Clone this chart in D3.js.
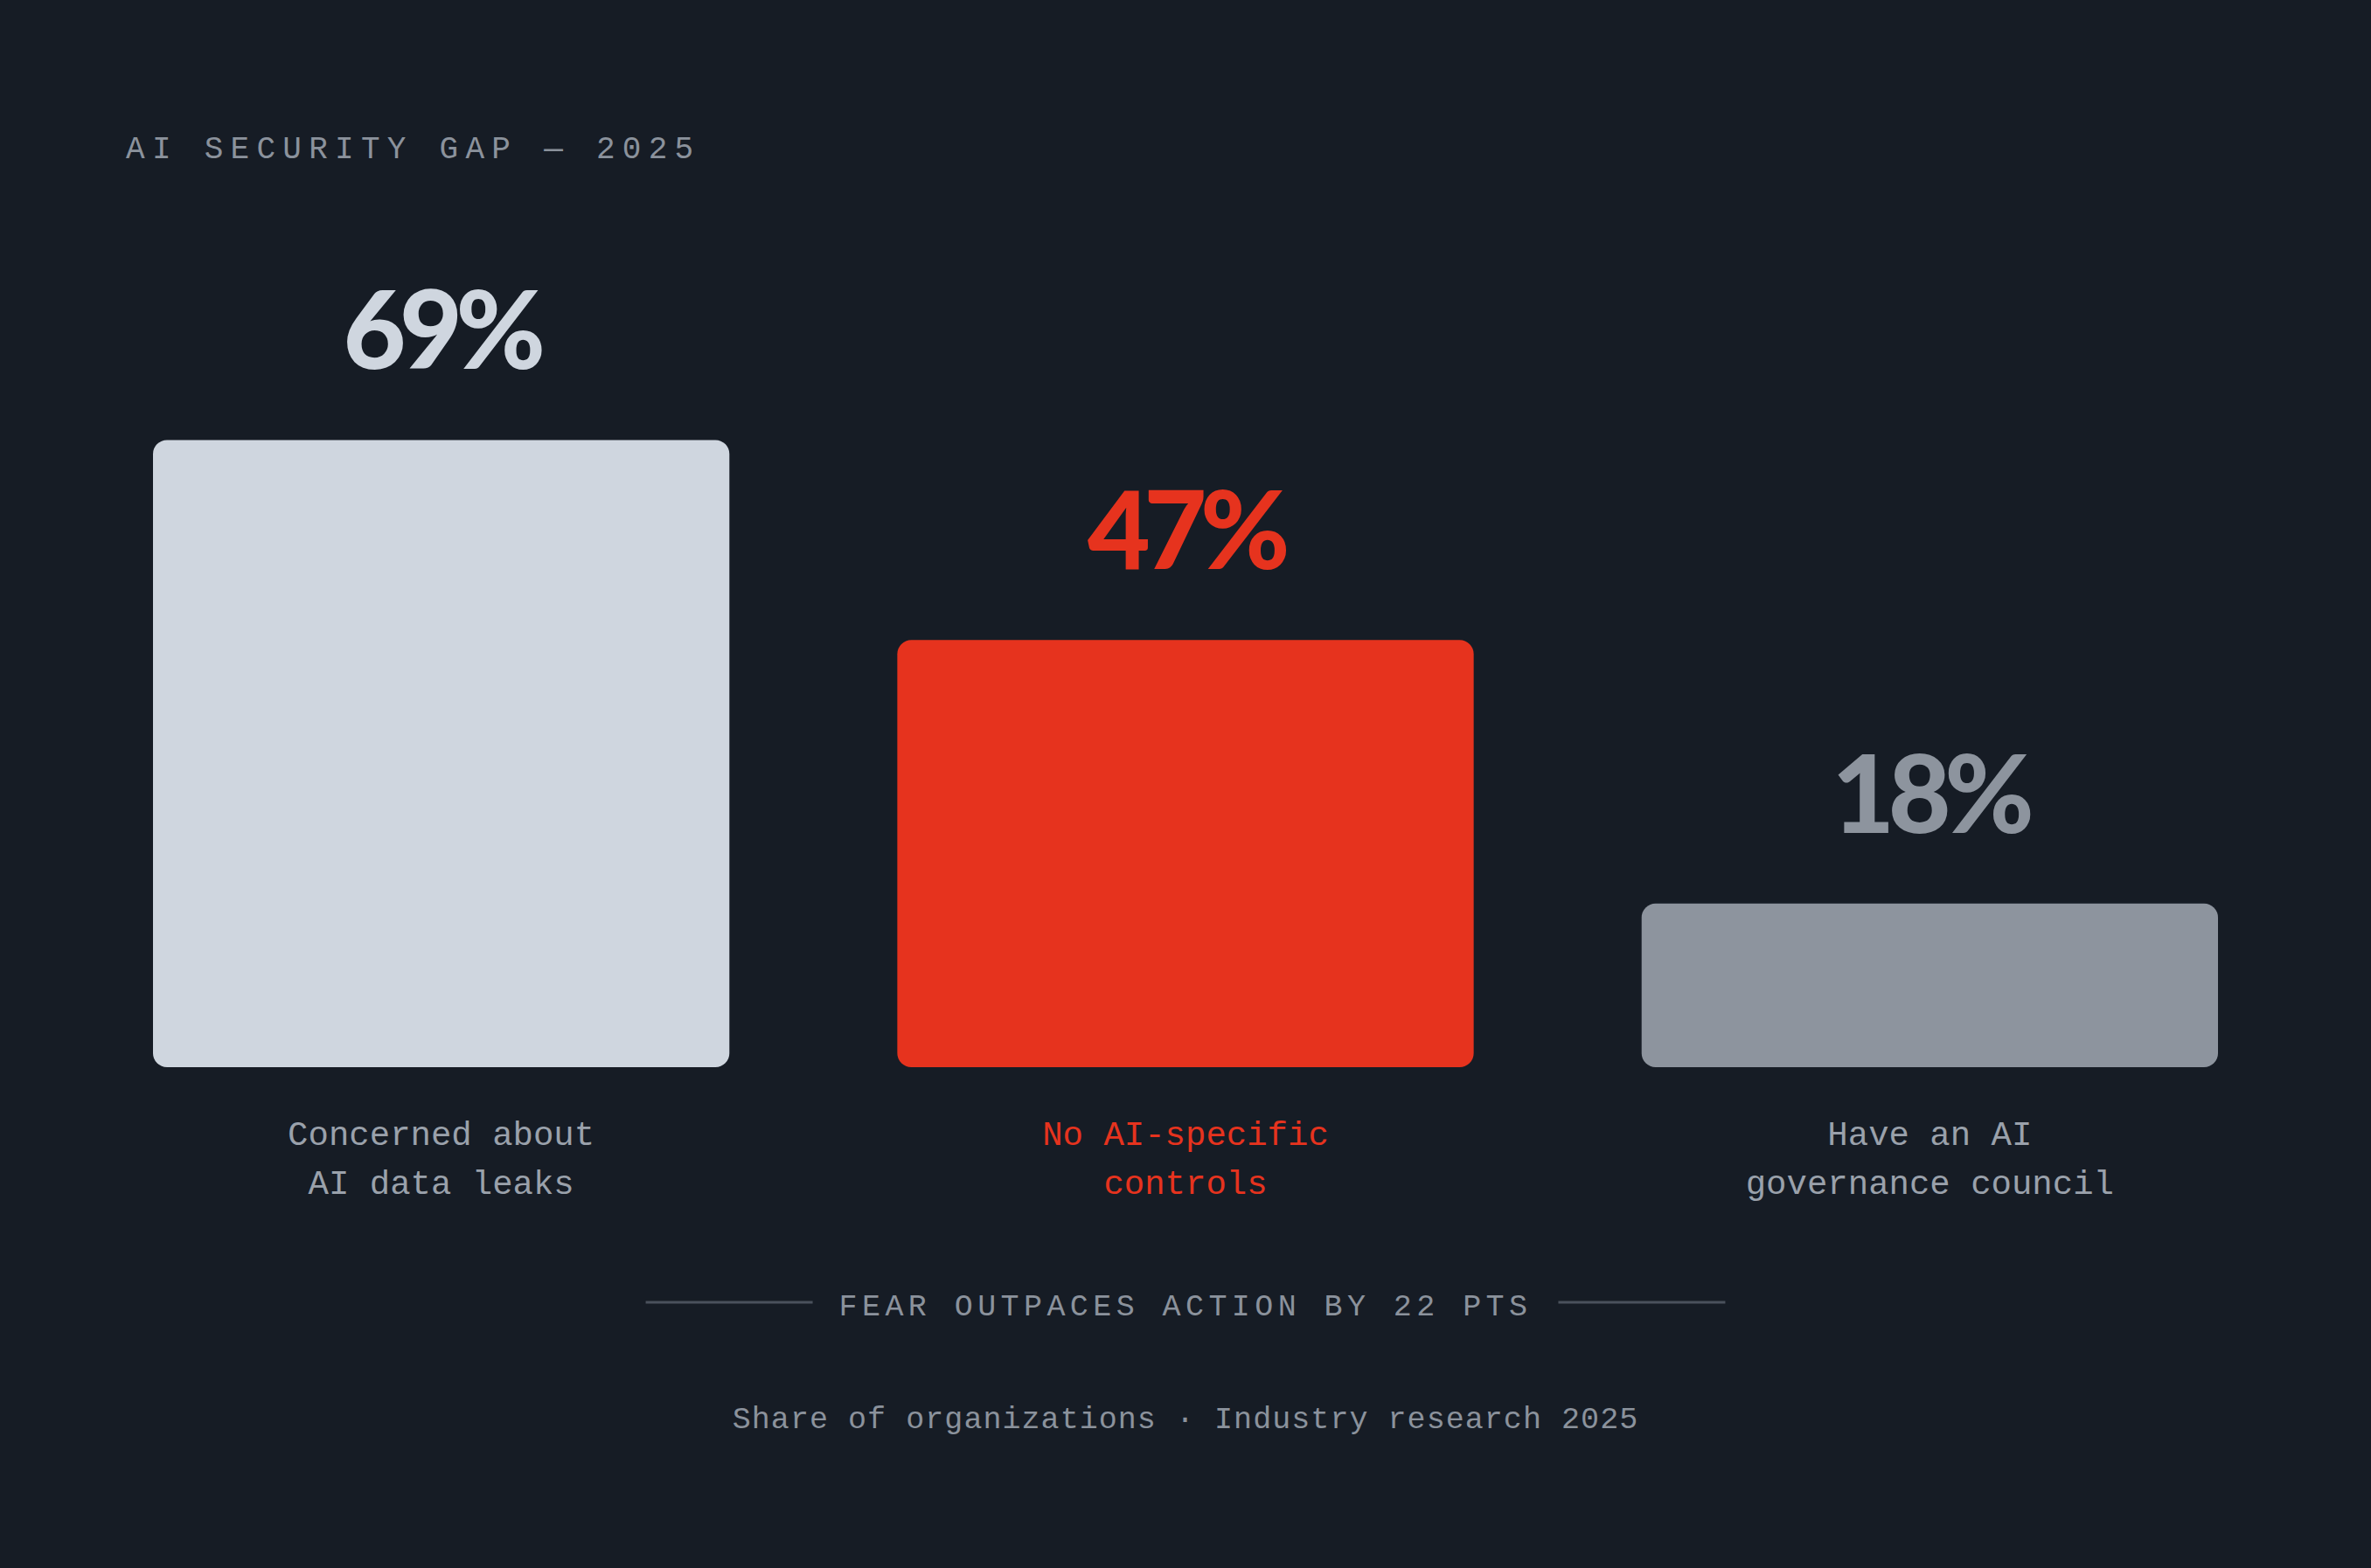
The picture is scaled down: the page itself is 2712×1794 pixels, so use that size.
<!DOCTYPE html>
<html>
<head>
<meta charset="utf-8">
<script src="https://cdn.jsdelivr.net/npm/d3@7"></script>
<style>
  html, body { margin: 0; padding: 0; background: #161c25; }
  svg { display: block; }
  .mono { font-family: "Liberation Mono", "DejaVu Sans Mono", monospace; }
  .big { font-family: Lato, Inter, sans-serif; font-weight: 900; }
</style>
</head>
<body>
<div id="chart"></div>
<script>
// data
var categories = ["Concerned about|AI data leaks", "No AI-specific|controls", "Have an AI|governance council"];
var values = [69, 47, 18];
var valueLabels = ["69%", "47%", "18%"];
var barColors = ["#cfd6df", "#e6331e", "#8d949e"];
var labelColors = ["#9aa1ab", "#e6331e", "#9aa1ab"];
var title = "AI SECURITY GAP \u2014 2025";
var callout = "FEAR OUTPACES ACTION BY 22 PTS";
var footer = "Share of organizations \u00b7 Industry research 2025";

var width = 2712;
var height = 1794;

var svg = d3.select("#chart")
  .append("svg")
  .attr("width", width)
  .attr("height", height);

svg.append("rect")
  .attr("width", width)
  .attr("height", height)
  .attr("fill", "#161c25");

var x = d3.scaleBand()
  .domain(categories)
  .range([175, 2537])
  .paddingInner(0.2256)
  .paddingOuter(0);

var y = d3.scaleLinear()
  .domain([0, 100])
  .range([1221, 181]);

// title
svg.append("text")
  .attr("class", "mono")
  .attr("x", 144)
  .attr("y", 181)
  .attr("fill", "#8b929c")
  .attr("font-size", 36)
  .attr("letter-spacing", "0.23em")
  .text(title);

// bars
svg.selectAll(".bar")
  .data(values)
  .enter()
  .append("rect")
  .attr("class", "bar")
  .attr("x", (d, i) => x(categories[i]))
  .attr("y", d => y(d))
  .attr("width", x.bandwidth())
  .attr("height", d => y(0) - y(d))
  .attr("rx", 16)
  .attr("fill", (d, i) => barColors[i]);

// value labels
svg.selectAll(".val")
  .data(values)
  .enter()
  .append("text")
  .attr("class", "big")
  .attr("x", (d, i) => x(categories[i]) + x.bandwidth() / 2)
  .attr("y", d => y(d) - 81)
  .attr("text-anchor", "middle")
  .attr("font-size", 124)
  .attr("letter-spacing", "-0.06em")
  .attr("fill", (d, i) => barColors[i])
  .text((d, i) => valueLabels[i]);

// category labels
categories.forEach(function (c, i) {
  var t = svg.append("text")
    .attr("class", "mono")
    .attr("text-anchor", "middle")
    .attr("font-size", 39)
    .attr("fill", labelColors[i]);
  c.split("|").forEach(function (line, j) {
    t.append("tspan")
      .attr("x", x(c) + x.bandwidth() / 2)
      .attr("y", 1310 + j * 56)
      .text(line);
  });
});

// callout with rules
var cx = width / 2;
var callText = svg.append("text")
  .attr("class", "mono")
  .attr("x", cx)
  .attr("y", 1505)
  .attr("text-anchor", "middle")
  .attr("font-size", 35)
  .attr("letter-spacing", "0.155em")
  .attr("fill", "#8b929c")
  .text(callout);

var tw = callText.node().getComputedTextLength();
var half = tw / 2;
svg.append("line")
  .attr("x1", cx - half - 30 - 191).attr("x2", cx - half - 30)
  .attr("y1", 1490).attr("y2", 1490)
  .attr("stroke", "#4a515c").attr("stroke-width", 3);
svg.append("line")
  .attr("x1", cx + half + 30).attr("x2", cx + half + 30 + 191)
  .attr("y1", 1490).attr("y2", 1490)
  .attr("stroke", "#4a515c").attr("stroke-width", 3);

// footer
svg.append("text")
  .attr("class", "mono")
  .attr("x", cx)
  .attr("y", 1634)
  .attr("text-anchor", "middle")
  .attr("font-size", 35)
  .attr("letter-spacing", "0.03em")
  .attr("fill", "#8b929c")
  .text(footer);
</script>
</body>
</html>
